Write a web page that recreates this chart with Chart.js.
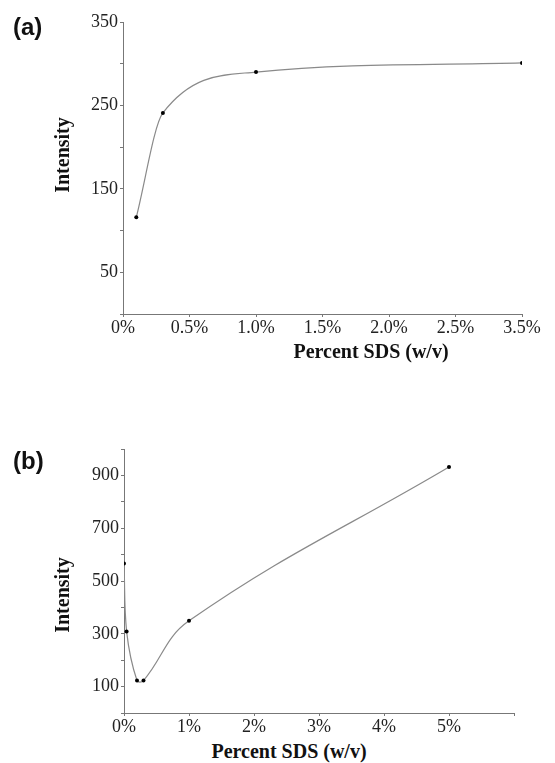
<!DOCTYPE html>
<html>
<head>
<meta charset="utf-8">
<script src="https://cdn.jsdelivr.net/npm/chart.js@4"></script>
<style>
  html, body { margin: 0; padding: 0; background: #fff; }
  #wrap { position: relative; width: 555px; height: 763px; background: #fff; overflow: hidden; }
  canvas { position: absolute; left: 0; }
  .panel { position: absolute; font-family: 'Liberation Sans', Arial, sans-serif; font-weight: bold; font-size: 24px; line-height: 1; color: #111; }
  .atitle { position: absolute; font-family: 'Liberation Serif', 'Times New Roman', serif; font-weight: bold; font-size: 20px; line-height: 1; color: #111; white-space: nowrap; }
</style>
</head>
<body>
<div id="wrap">
  <canvas id="cA" width="555" height="345" style="top:0px"></canvas>
  <canvas id="cB" width="555" height="320" style="top:420px"></canvas>
  <div class="panel" style="left:13px;top:15px">(a)</div>
  <div class="panel" style="left:13px;top:449px">(b)</div>
  <div class="atitle" style="left:62px;top:155px;transform:translate(-50%,-50%) rotate(-90deg)">Intensity</div>
  <div class="atitle" style="left:371px;top:351px;transform:translate(-50%,-50%)">Percent SDS (w/v)</div>
  <div class="atitle" style="left:62px;top:595px;transform:translate(-50%,-50%) rotate(-90deg)">Intensity</div>
  <div class="atitle" style="left:289px;top:751px;transform:translate(-50%,-50%)">Percent SDS (w/v)</div>
</div>
<script>
// ---- Panel (a) data ----
const xA = [0.1, 0.3, 1.0, 3.0];            // axis positions (last point drawn at the "3.5%" tick)
const yA = [116, 241, 290, 301];
const xTickLabelsA = ['0%', '0.5%', '1.0%', '1.5%', '2.0%', '2.5%', '3.5%'];
const yTickLabelsA = ['50', '150', '250', '350'];

// ---- Panel (b) data ----
const xB = [0, 0.04, 0.2, 0.3, 1.0, 5.0];
const yB = [566, 309, 123, 123, 349, 932];
const xTickLabelsB = ['0%', '1%', '2%', '3%', '4%', '5%', ''];
const yTickLabelsB = ['100', '300', '500', '700', '900'];

const SERIF = "'Liberation Serif', 'Times New Roman', serif";
const AXIS = '#777';

function makeChart(id, xs, ys, xLabels, yLabels, xMax, xStep, yMax, yStep, pad, yW, xH, curve) {
  const pts = xs.map((x, i) => ({ x: x, y: ys[i] }));
  return new Chart(document.getElementById(id), {
    type: 'line',
    data: {
      datasets: [Object.assign({
        data: pts,
        borderColor: '#8a8a8a',
        borderWidth: 1.2,
        pointRadius: 2,
        pointBackgroundColor: '#000',
        pointBorderColor: '#000',
        pointBorderWidth: 0,
        fill: false
      }, curve)]
    },
    options: {
      responsive: false,
      animation: false,
      devicePixelRatio: 1,
      layout: { padding: pad },
      plugins: { legend: { display: false }, tooltip: { enabled: false }, title: { display: false } },
      scales: {
        x: {
          type: 'linear',
          min: 0, max: xMax,
          afterFit: s => { s.height = xH; },
          border: { display: true, color: AXIS, width: 1 },
          grid: { drawOnChartArea: false, drawTicks: true, tickLength: 3, color: AXIS },
          ticks: {
            stepSize: xStep, autoSkip: false, maxRotation: 0, padding: 0,
            color: '#222', font: { family: SERIF, size: 18 },
            callback: (v, i) => xLabels[i] !== undefined ? xLabels[i] : ''
          }
        },
        y: {
          type: 'linear',
          min: 0, max: yMax,
          afterFit: s => { s.width = yW; },
          border: { display: true, color: AXIS, width: 1 },
          grid: { drawOnChartArea: false, drawTicks: true, tickLength: 3, color: AXIS },
          ticks: {
            stepSize: yStep, autoSkip: false, padding: 2,
            color: '#222', font: { family: SERIF, size: 18 },
            callback: v => yLabels.includes(String(v)) ? String(v) : ''
          }
        }
      }
    }
  });
}

makeChart('cA', xA, yA, xTickLabelsA, yTickLabelsA, 3, 0.5, 350, 50,
  { top: 22, right: 33, bottom: 0, left: 0 }, 123, 31, { cubicInterpolationMode: 'monotone' });
makeChart('cB', xB, yB, xTickLabelsB, yTickLabelsB, 6, 1, 1000, 100,
  { top: 29, right: 41, bottom: 0, left: 0 }, 124, 27, { tension: 0.4 });
</script>
</body>
</html>
